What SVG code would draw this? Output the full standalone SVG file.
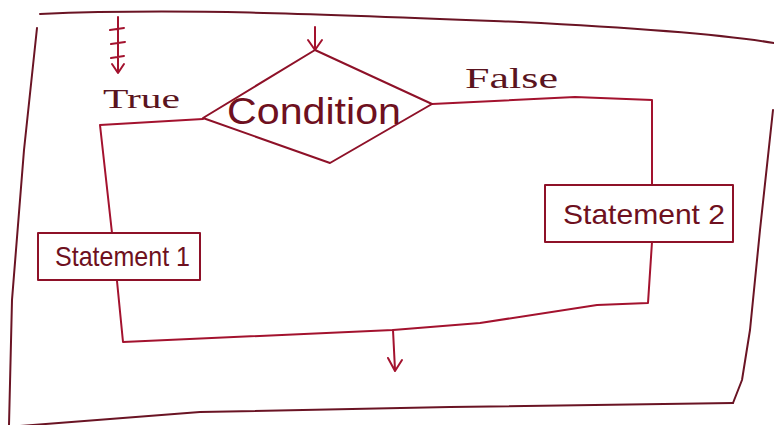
<svg xmlns="http://www.w3.org/2000/svg" width="774" height="425" viewBox="0 0 774 425">
<style>
.frame{fill:none;stroke:#6a1424;stroke-width:2;stroke-linecap:round;stroke-linejoin:round}
.ln{fill:none;stroke:#a3122e;stroke-width:2;stroke-linecap:round;stroke-linejoin:round}
.shape{fill:none;stroke:#8e1128;stroke-width:2;stroke-linejoin:round}
.t{font-family:"Liberation Sans","DejaVu Sans",sans-serif;fill:#6e1020}
.lbl{font-family:"Liberation Serif","DejaVu Serif",serif;fill:#5a1420}
</style>
<rect width="774" height="425" fill="#ffffff"/>
<g id="frame">
<path class="frame" d="M40,14 C180,8 320,14 520,22 C640,28 720,34 774,43"/>
<path class="frame" d="M37,28 L24,150 L12,300 L9,425"/>
<path class="frame" d="M20,426 L200,412 L450,407 L733,403"/>
<path class="frame" d="M733,403 L742,380 L750,330 L760,230 L773,110"/>
</g>
<g id="connectors">
<path class="ln" d="M118,17 L118,73 M110,30 L124,28 M111,44 L125,42 M111,58 L124,56 M112,64 L118,73 L124,64"/>
<path class="ln" d="M315,27 L315,50 M308,40 L315,50 L322,40"/>
<path class="ln" d="M203,119 L100,125 L112,233"/>
<path class="ln" d="M432,104 L575,97 L652,100 L652,185"/>
<path class="ln" d="M117,281 L123,342 L393,330 L480,323 L597,305 L648,303 L652,242"/>
<path class="ln" d="M393,330 L395,370 M388,358 L395,371 L402,360"/>
</g>
<g id="condition">
<path class="shape" d="M315,50 L432,104 L330,163 L203,118 Z"/>
<text class="t" x="227" y="124" font-size="36" textLength="174" lengthAdjust="spacingAndGlyphs">Condition</text>
</g>
<g id="true-label">
<text class="lbl" x="103" y="108" font-size="28" textLength="77" lengthAdjust="spacingAndGlyphs">True</text>
</g>
<g id="false-label">
<text class="lbl" x="465" y="88" font-size="30" textLength="93" lengthAdjust="spacingAndGlyphs">False</text>
</g>
<g id="statement1">
<rect class="shape" x="38" y="233" width="162" height="47"/>
<text class="t" x="55" y="266" font-size="28" textLength="135" lengthAdjust="spacingAndGlyphs">Statement 1</text>
</g>
<g id="statement2">
<rect class="shape" x="545" y="185" width="188" height="57"/>
<text class="t" x="563" y="224" font-size="28" textLength="162" lengthAdjust="spacingAndGlyphs">Statement 2</text>
</g>
</svg>
